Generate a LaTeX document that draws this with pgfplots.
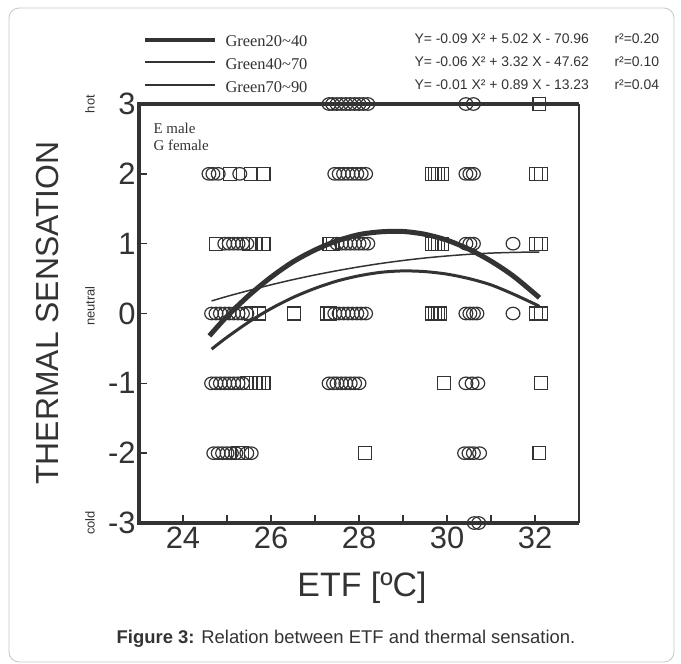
\documentclass[border=0pt]{standalone}
\usepackage{fontspec}
\setmainfont{Liberation Serif}
\setsansfont{Liberation Sans}
\newfontfamily\arial{Liberation Sans}
\newfontfamily\tnr{Liberation Serif}
\usepackage{pgfplots}
\pgfplotsset{compat=1.18}
\definecolor{ink}{HTML}{333333}
\begin{document}
\begin{tikzpicture}[x=1bp,y=1bp]
\useasboundingbox (0,0) rectangle (681,-664);
\draw[gray!45, line width=0.8bp, rounded corners=10bp] (9,-8) rectangle (674,-662);
\begin{axis}[
 at={(139bp,-523bp)}, anchor=south west,
 scale only axis, width=440bp, height=419bp,
 xmin=23, xmax=33, ymin=-3, ymax=3,
 clip=false,
 axis line style={draw=none},
 xtick={24,26,28,30,32}, xticklabels={24,26,28,30,32},
 minor xtick={25,27,29,31},
 ytick={-3,-2,-1,0,1,2,3}, yticklabels={-3,-2,-1,0,1,2,3},
 xtick pos=left, ytick pos=left,
 tick align=inside,
 major tick length=8bp, minor tick length=8bp,
 tick style={ink, line width=1.5bp},
 ticklabel style={font=\arial\fontsize{31}{31}\selectfont, text=ink},
 circ/.style={only marks, mark=o, mark size=6.3pt, mark options={xscale=1.1, ink, line width=1.2bp}},
 sq/.style={only marks, mark=square, mark size=6.5pt, mark options={ink, line width=1.2bp}},
]
% frame
\draw[ink, line width=3.6bp] (rel axis cs:1,1) -- (rel axis cs:0,1) -- (rel axis cs:0,0) -- (rel axis cs:1,0);
\draw[ink, line width=2bp] (rel axis cs:1,0) -- (rel axis cs:1,1);
% circles (female)
\addplot[circ] coordinates {
(27.32,3)(27.4,3)(27.5,3)(27.6,3)(27.7,3)(27.8,3)(27.9,3)(28.0,3)(28.1,3)(28.2,3)(30.43,3)(30.6,3)
(24.59,2)(24.68,2)(24.8,2)(25.29,2)(27.45,2)(27.55,2)(27.65,2)(27.75,2)(27.85,2)(27.95,2)(28.05,2)(28.15,2)(30.43,2)(30.52,2)(30.6,2)
(24.95,1)(25.05,1)(25.15,1)(25.25,1)(25.35,1)(25.45,1)(27.5,1)(27.6,1)(27.7,1)(27.8,1)(27.9,1)(28.0,1)(28.1,1)(28.2,1)(30.43,1)(30.52,1)(30.6,1)(31.5,1)
(24.65,0)(24.75,0)(24.85,0)(24.95,0)(25.05,0)(25.15,0)(25.25,0)(25.35,0)(25.45,0)(27.45,0)(27.55,0)(27.65,0)(27.75,0)(27.85,0)(27.95,0)(28.05,0)(28.15,0)(30.43,0)(30.52,0)(30.6,0)(30.68,0)(31.5,0)
(24.65,-1)(24.75,-1)(24.85,-1)(24.95,-1)(25.05,-1)(25.15,-1)(25.25,-1)(25.35,-1)(27.32,-1)(27.42,-1)(27.5,-1)(27.6,-1)(27.7,-1)(27.8,-1)(27.9,-1)(28.0,-1)(30.43,-1)(30.57,-1)(30.7,-1)
(24.7,-2)(24.8,-2)(24.9,-2)(25.0,-2)(25.1,-2)(25.2,-2)(25.45,-2)(25.55,-2)(30.4,-2)(30.5,-2)(30.6,-2)(30.74,-2)
(30.62,-3)(30.72,-3)
};
% squares (male)
\addplot[sq] coordinates {
(32.1,3)
(25.07,2)(25.54,2)(25.83,2)(29.65,2)(29.72,2)(29.8,2)(29.88,2)(32.02,2)(32.13,2)
(24.75,1)(25.5,1)(25.65,1)(25.83,1)(27.33,1)(27.4,1)(29.65,1)(29.72,1)(29.8,1)(29.88,1)(32.02,1)(32.13,1)
(25.55,0)(25.72,0)(26.52,0)(27.27,0)(27.35,0)(29.65,0)(29.72,0)(29.8,0)(29.85,0)(32.02,0)(32.13,0)
(25.45,-1)(25.55,-1)(25.65,-1)(25.72,-1)(25.83,-1)(29.93,-1)(32.13,-1)
(25.25,-2)(25.35,-2)(28.13,-2)(32.1,-2)
};
% Green20~40
\addplot[ink, line width=5bp, smooth] coordinates {
(24.6,-0.32)(25,-0.04)(25.5,0.26)(26,0.52)(26.5,0.74)(27,0.91)(27.5,1.04)(28,1.13)(28.5,1.17)(29,1.175)(29.5,1.134)(30,1.05)(30.5,0.92)(31,0.75)(31.5,0.54)(32,0.28)(32.1,0.225)
};
% Green40~70
\addplot[ink, line width=3bp, smooth] coordinates {
(24.65,-0.51)(25,-0.34)(25.5,-0.12)(26,0.07)(26.5,0.23)(27,0.36)(27.5,0.465)(28,0.54)(28.5,0.59)(29,0.61)(29.5,0.60)(30,0.564)(30.5,0.50)(31,0.41)(31.5,0.28)(32,0.134)(32.1,0.10)
};
% Green70~90
\addplot[ink, line width=1.5bp, smooth] coordinates {
(24.65,0.18)(25,0.245)(25.5,0.33)(26,0.411)(26.5,0.485)(27,0.552)(27.5,0.613)(28,0.668)(28.5,0.717)(29,0.759)(29.5,0.795)(30,0.824)(30.5,0.848)(31,0.865)(31.5,0.875)(32,0.88)(32.1,0.88)
};
\end{axis}
% axis labels
\node[rotate=90, font=\arial\fontsize{32}{32}\selectfont, text=ink] at (48,-313) {THERMAL SENSATION};
\node[rotate=90, font=\arial\fontsize{13}{13}\selectfont, text=ink] at (90,-104) {hot};
\node[rotate=90, font=\arial\fontsize{13}{13}\selectfont, text=ink] at (90,-306) {neutral};
\node[rotate=90, font=\arial\fontsize{13}{13}\selectfont, text=ink] at (90,-523) {cold};
\node[font=\arial\fontsize{34}{34}\selectfont, text=ink] at (362,-588) {ETF [ºC]};
\node[font=\arial\fontsize{18.5}{18.5}\selectfont, text=ink] at (346,-639) {\textbf{Figure 3:} Relation between ETF and thermal sensation.};
% sex key
\node[anchor=west, font=\tnr\fontsize{15}{15}\selectfont, text=ink] at (150,-128) {E male};
\node[anchor=west, font=\tnr\fontsize{15}{15}\selectfont, text=ink] at (150,-145) {G female};
% legend
\draw[ink, line width=4.5bp] (145,-40) -- (215,-40);
\draw[ink, line width=2.8bp] (145,-62) -- (215,-62);
\draw[ink, line width=1.6bp] (145,-85) -- (215,-85);
\node[anchor=west, font=\tnr\fontsize{16.5}{16.5}\selectfont, text=ink] at (222,-41) {Green20\textasciitilde40};
\node[anchor=west, font=\tnr\fontsize{16.5}{16.5}\selectfont, text=ink] at (222,-64) {Green40\textasciitilde70};
\node[anchor=west, font=\tnr\fontsize{16.5}{16.5}\selectfont, text=ink] at (222,-87) {Green70\textasciitilde90};
\node[anchor=west, font=\arial\fontsize{14}{14}\selectfont, text=ink] at (411,-39) {Y= -0.09 X² + 5.02 X - 70.96};
\node[anchor=west, font=\arial\fontsize{14}{14}\selectfont, text=ink] at (411,-62) {Y= -0.06 X² + 3.32 X - 47.62};
\node[anchor=west, font=\arial\fontsize{14}{14}\selectfont, text=ink] at (411,-85) {Y= -0.01 X² + 0.89 X - 13.23};
\node[anchor=west, font=\arial\fontsize{14}{14}\selectfont, text=ink] at (611,-39) {r²=0.20};
\node[anchor=west, font=\arial\fontsize{14}{14}\selectfont, text=ink] at (611,-62) {r²=0.10};
\node[anchor=west, font=\arial\fontsize{14}{14}\selectfont, text=ink] at (611,-85) {r²=0.04};
\end{tikzpicture}
\end{document}
